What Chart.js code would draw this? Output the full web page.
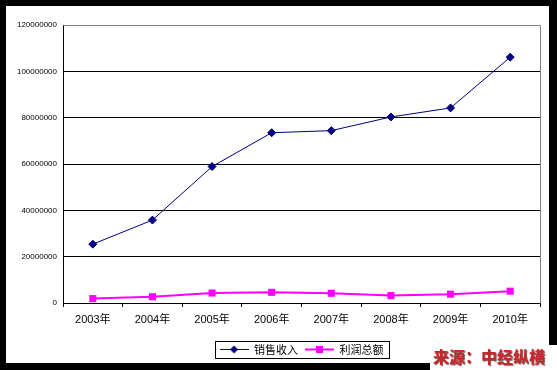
<!DOCTYPE html>
<html>
<head>
<meta charset="utf-8">
<script src="https://cdn.jsdelivr.net/npm/chart.js@4/dist/chart.umd.min.js"></script>
<style>
html,body{margin:0;padding:0;background:#000;}
#wrap{position:relative;width:557px;height:370px;}
#c{position:absolute;left:0;top:0;}
#wm{position:absolute;left:430px;top:345px;width:127px;height:25px;background:#fff;
  font:bold 16px "Noto Sans CJK SC",sans-serif;color:#c8262a;line-height:22px;padding-left:3px;box-sizing:border-box;
  text-shadow:1px 1px 1px #7a5050;white-space:nowrap;}
</style>
</head>
<body>
<div id="wrap">
<canvas id="c" width="557" height="370"></canvas>
<div id="wm">来源：中经纵横</div>
</div>
<script>
const categories = ['2003年','2004年','2005年','2006年','2007年','2008年','2009年','2010年'];
const salesRevenue = [25400000, 35800000, 58900000, 73500000, 74400000, 80300000, 84200000, 106100000];
const totalProfit = [1900000, 2700000, 4300000, 4600000, 4200000, 3200000, 3800000, 5100000];
const yTickLabels = ['0','20000000','40000000','60000000','80000000','100000000','120000000'];
const seriesNames = ['销售收入','利润总额'];

const NAVY = '#000080', PINK = '#FF00FF';

function swatch(color, lw, shape){
  const c = document.createElement('canvas');
  c.width = 29; c.height = 9;
  const g = c.getContext('2d');
  g.strokeStyle = color; g.lineWidth = lw;
  g.beginPath(); g.moveTo(0, 4.5); g.lineTo(29, 4.5); g.stroke();
  g.fillStyle = color;
  g.beginPath();
  if (shape === 'diamond'){
    g.moveTo(14.5, 0.5); g.lineTo(18.5, 4.5); g.lineTo(14.5, 8.5); g.lineTo(10.5, 4.5); g.closePath();
  } else {
    g.rect(11, 1, 7, 7);
  }
  g.fill();
  return c;
}
const swatches = [swatch(NAVY, 1, 'diamond'), swatch(PINK, 2, 'square')];

const framePlugin = {
  id: 'frame',
  beforeDraw(chart){
    const ctx = chart.ctx;
    ctx.save();
    ctx.fillStyle = '#000';
    ctx.fillRect(0, 0, chart.width, chart.height);
    ctx.fillStyle = '#fff';
    ctx.fillRect(6, 6, 543, 357);
    ctx.restore();
  },
  beforeDatasetsDraw(chart){
    const a = chart.chartArea, ctx = chart.ctx;
    ctx.save();
    ctx.strokeStyle = '#808080';
    ctx.lineWidth = 1;
    ctx.beginPath();
    ctx.moveTo(Math.round(a.left) + 0.5, Math.round(a.top) + 0.5);
    ctx.lineTo(Math.round(a.right) + 0.5, Math.round(a.top) + 0.5);
    ctx.lineTo(Math.round(a.right) + 0.5, Math.round(a.bottom) + 0.5);
    ctx.stroke();
    ctx.restore();
  },
  afterDraw(chart){
    const lg = chart.legend;
    if (!lg || !lg.legendHitBoxes || !lg.legendHitBoxes.length) return;
    const hb = lg.legendHitBoxes;
    const first = hb[0], last = hb[hb.length - 1];
    const l = Math.round(first.left - 5) + 0.5;
    const r = Math.round(last.left + last.width + 6) + 0.5;
    const t = Math.round(first.top - 3) + 0.5;
    const b = Math.round(first.top + first.height + 3) + 0.5;
    const ctx = chart.ctx;
    ctx.save();
    ctx.strokeStyle = '#000'; ctx.lineWidth = 1;
    ctx.strokeRect(l, t, r - l, b - t);
    ctx.restore();
  }
};

new Chart(document.getElementById('c'), {
  type: 'line',
  data: {
    labels: categories,
    datasets: [
      { label: seriesNames[0], data: salesRevenue, borderColor: NAVY, backgroundColor: NAVY,
        borderWidth: 1, pointStyle: 'rectRot', pointRadius: 4, pointHoverRadius: 4,
        pointBackgroundColor: NAVY, pointBorderColor: NAVY, pointBorderWidth: 1, tension: 0 },
      { label: seriesNames[1], data: totalProfit, borderColor: PINK, backgroundColor: PINK,
        borderWidth: 2, pointStyle: 'rect', pointRadius: 5, pointHoverRadius: 5,
        pointBackgroundColor: PINK, pointBorderColor: PINK, pointBorderWidth: 0, tension: 0 }
    ]
  },
  options: {
    responsive: false,
    animation: false,
    devicePixelRatio: 1,
    layout: { padding: { top: 25, left: 0, right: 17, bottom: 5 } },
    plugins: {
      tooltip: { enabled: false },
      legend: {
        position: 'bottom',
        fullSize: false,
        labels: {
          usePointStyle: true,
          pointStyleWidth: 29,
          boxHeight: 9,
          padding: 7,
          color: '#000',
          font: { family: '"Noto Sans CJK SC", sans-serif', size: 11 },
          generateLabels(chart){
            const items = Chart.defaults.plugins.legend.labels.generateLabels(chart);
            items.forEach((it, i) => { it.pointStyle = swatches[i]; it.lineWidth = 0; });
            return items;
          }
        }
      }
    },
    scales: {
      x: {
        offset: true,
        grid: { offset: true, drawOnChartArea: false, drawTicks: true, tickLength: 4, color: '#000', lineWidth: 1 },
        border: { color: '#000', width: 1 },
        ticks: { color: '#000', padding: 6, maxRotation: 0, autoSkip: false,
          font: { family: '"Liberation Sans", "Noto Sans CJK SC", sans-serif', size: 11 } },
        afterFit(s){ s.height = 34; }
      },
      y: {
        min: 0, max: 120000000,
        ticks: { stepSize: 20000000, color: '#000', padding: 6,
          font: { family: '"Liberation Sans", Arial, sans-serif', size: 8 },
          callback(v){ const i = Math.round(v / 20000000); return yTickLabels[i]; } },
        grid: { drawTicks: false, color: (c) => (c.tick && c.tick.value === 120000000) ? '#808080' : '#000', lineWidth: 1 },
        border: { color: '#000', width: 1 },
        afterFit(s){ s.width = 63; }
      }
    }
  },
  plugins: [framePlugin]
});
</script>
</body>
</html>
